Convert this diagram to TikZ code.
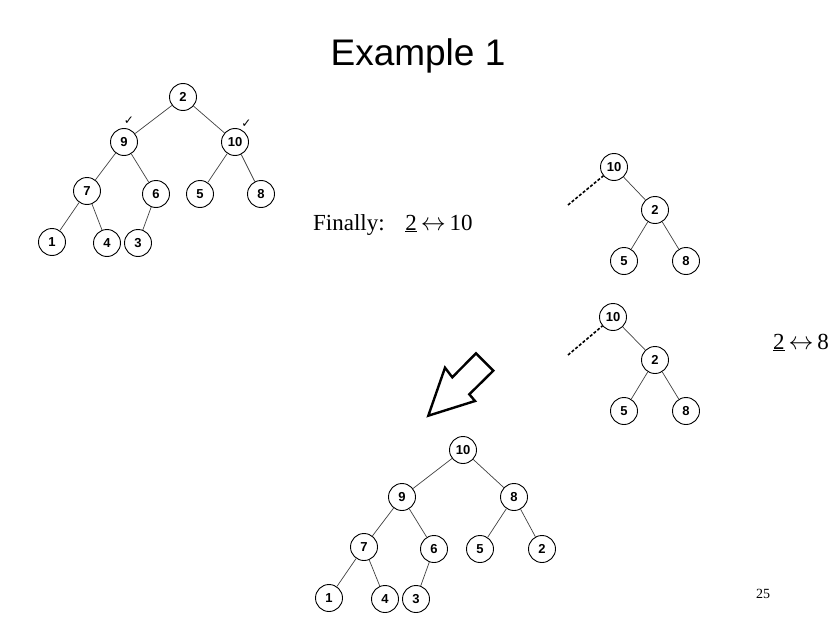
\documentclass[tikz,border=0pt]{standalone}
\usepackage{fontspec}
\setmainfont{Liberation Serif}
\newfontfamily\nodefont{Liberation Sans Bold}
\newfontfamily\titlefont{Liberation Sans}
\newfontfamily\symfont{DejaVu Sans}
\begin{document}
\begin{tikzpicture}[x=1pt,y=-1pt,
  hn/.style={circle,draw=black,line width=0.9pt,minimum size=27pt,inner sep=0pt,
    font=\nodefont\fontsize{13}{13}\selectfont},
  edge/.style={draw=black!75,line width=0.7pt},
  dashedge/.style={draw=black,line width=1.6pt,dash pattern=on 3pt off 1.8pt},
  lbl/.style={inner sep=0pt,font=\fontsize{23}{26}\selectfont},
  chk/.style={inner sep=0pt,font=\symfont\fontsize{12}{12}\selectfont}]
\useasboundingbox (0,0) rectangle (837,623);

% title
\node[inner sep=0pt,font=\titlefont\fontsize{37}{40}\selectfont] (title) at (418,56) {Example 1};

% top-left tree
\node[hn] (a2) at (183,97) {2};
\node[hn] (a9) at (124,142) {9};
\node[hn] (a10) at (235,142) {10};
\node[hn] (a7) at (87,191) {7};
\node[hn] (a6) at (156,194) {6};
\node[hn] (a5) at (200,194) {5};
\node[hn] (a8) at (261,194) {8};
\node[hn] (a1) at (52,242) {1};
\node[hn] (a4) at (107,243) {4};
\node[hn] (a3) at (138,243) {3};
\node[chk] (ck1) at (129,121) {✓};
\node[chk] (ck2) at (246.5,123.5) {✓};
\path[edge] (a2) -- (a9);
\path[edge] (a2) -- (a10);
\path[edge] (a9) -- (a7);
\path[edge] (a9) -- (a6);
\path[edge] (a10) -- (a5);
\path[edge] (a10) -- (a8);
\path[edge] (a7) -- (a1);
\path[edge] (a7) -- (a4);
\path[edge] (a6) -- (a3);

% Finally text
\node[lbl,anchor=base west] (fin) at (313,230) {Finally:\hspace{0.9em}\underline{2}\,$\leftrightarrow$\,10};

% right tree A
\node[hn] (b10) at (614,167) {10};
\node[hn] (b2) at (655,210) {2};
\node[hn] (b5) at (624,261) {5};
\node[hn] (b8) at (686,261) {8};
\coordinate (bd) at (568,205);
\path[edge] (b10) -- (b2);
\path[edge] (b2) -- (b5);
\path[edge] (b2) -- (b8);
\path[dashedge] (bd) -- (b10);

% right tree B
\node[hn] (c10) at (613,317) {10};
\node[hn] (c2) at (655,360) {2};
\node[hn] (c5) at (624,411) {5};
\node[hn] (c8) at (686,411) {8};
\coordinate (cd) at (568,355);
\path[edge] (c10) -- (c2);
\path[edge] (c2) -- (c5);
\path[edge] (c2) -- (c8);
\path[dashedge] (cd) -- (c10);

\node[lbl,anchor=base west] (swap) at (773,349) {\underline{2}\,$\leftrightarrow$\,8};

% big hollow arrow
\draw[line width=2.4pt,line join=miter] (428.3,415.7) -- (445,367.7) -- (452.3,377.3) -- (476,353.3)
  -- (493.3,370.7) -- (469.3,394.3) -- (475,401) -- cycle;

% bottom tree
\node[hn] (d10) at (463,450) {10};
\node[hn] (d9) at (402,497) {9};
\node[hn] (d8) at (514,497) {8};
\node[hn] (d7) at (364,547) {7};
\node[hn] (d6) at (434,549) {6};
\node[hn] (d5) at (480,549) {5};
\node[hn] (d2) at (542,549) {2};
\node[hn] (d1) at (329,598) {1};
\node[hn] (d4) at (385,599) {4};
\node[hn] (d3) at (416,599) {3};
\path[edge] (d10) -- (d9);
\path[edge] (d10) -- (d8);
\path[edge] (d9) -- (d7);
\path[edge] (d9) -- (d6);
\path[edge] (d8) -- (d5);
\path[edge] (d8) -- (d2);
\path[edge] (d7) -- (d1);
\path[edge] (d7) -- (d4);
\path[edge] (d6) -- (d3);

% page number
\node[inner sep=0pt,anchor=base,font=\fontsize{14}{16}\selectfont] (pg) at (763,598) {25};
\end{tikzpicture}
\end{document}
